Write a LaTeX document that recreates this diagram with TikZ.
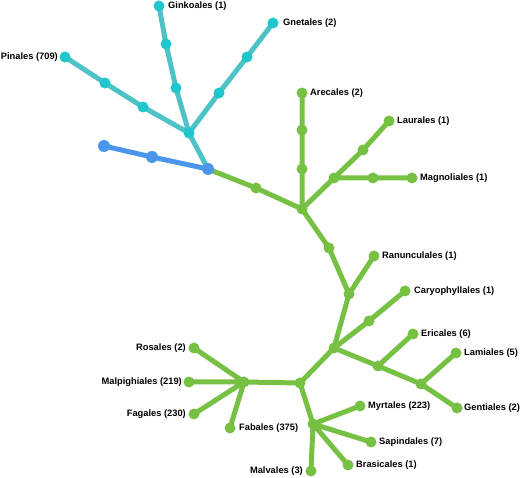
\documentclass[tikz,border=0pt]{standalone}
\usepackage{fontspec}
\setmainfont{Liberation Sans}
\definecolor{cyanline}{HTML}{4DC3C8}
\definecolor{cyandot}{HTML}{1FC6CB}
\definecolor{blueline}{HTML}{4A96EA}
\definecolor{greenline}{HTML}{76C043}
\tikzset{
  edge/.style={line width=5pt,line cap=round},
  lbl/.style={font=\bfseries\fontsize{9.3}{10}\selectfont,inner sep=0pt},
}
\begin{document}
\begin{tikzpicture}[x=1pt,y=-1pt]
\useasboundingbox (0,0) rectangle (520,478);
% points of the tree
\coordinate (gk) at (159,6);\coordinate (gk1) at (166,44);\coordinate (gk2) at (176,88);
\coordinate (gn) at (273,23);\coordinate (gn1) at (247,57);\coordinate (gn2) at (219,93);
\coordinate (pi) at (65,57);\coordinate (pi1) at (105,83);\coordinate (pi2) at (143,107);
\coordinate (cyhub) at (189,133);
\coordinate (root) at (208,169);\coordinate (bl1) at (152,157);\coordinate (bl) at (104,146);
\coordinate (g1) at (256,188);\coordinate (hubA) at (302,209);
\coordinate (ar) at (302,93);\coordinate (ar1) at (302,130);\coordinate (ar2) at (302,169);
\coordinate (mghub) at (334,178);\coordinate (la1) at (363,150);\coordinate (la) at (389,121);
\coordinate (mg1) at (373,178);\coordinate (mg) at (412,178);
\coordinate (d1) at (329,248);\coordinate (hubB) at (349,294);\coordinate (ra) at (374,256);
\coordinate (hubC) at (334,348);\coordinate (ca1) at (369,321);\coordinate (ca) at (405,291);
\coordinate (hubD) at (378,366);\coordinate (er) at (413,334);
\coordinate (hubE) at (421,384);\coordinate (lm) at (456,353);\coordinate (ge) at (457,408);
\coordinate (hubF) at (300,383);\coordinate (hubG) at (244,382);
\coordinate (ro) at (194,348);\coordinate (mp) at (189,382);\coordinate (fg) at (194,414);\coordinate (fb) at (230,428);
\coordinate (hubH) at (313,424);
\coordinate (my) at (360,406);\coordinate (sa) at (371,442);\coordinate (br) at (348,465);\coordinate (mv) at (311,471);

% branches
\draw[edge,cyanline] (pi)--(pi1)--(pi2)--(cyhub) (gk)--(gk1)--(gk2)--(cyhub) (gn)--(gn1)--(gn2)--(cyhub)--(root);
\draw[edge,blueline] (bl)--(bl1)--(root);
\draw[edge,greenline] (root)--(g1)--(hubA)--(ar2)--(ar1)--(ar) (hubA)--(mghub)--(la1)--(la) (mghub)--(mg1)--(mg)
  (hubA)--(d1)--(hubB)--(ra) (hubB)--(hubC)--(ca1)--(ca) (hubC)--(hubD)--(er) (hubD)--(hubE)--(lm) (hubE)--(ge)
  (hubC)--(hubF)--(hubG)--(ro) (hubG)--(mp) (hubG)--(fg) (hubG)--(fb)
  (hubF)--(hubH)--(my) (hubH)--(sa) (hubH)--(br) (hubH)--(mv);

% dots
\foreach \p in {gk,gk1,gk2,gn,gn1,gn2,pi,pi1,pi2,cyhub} \fill[cyandot] (\p) circle[radius=5.5pt];
\foreach \p in {bl,bl1,root} \fill[blueline] (\p) circle[radius=6pt];
\foreach \p in {g1,hubA,ar,ar1,ar2,mghub,la1,la,mg1,mg,d1,hubB,ra,hubC,ca1,ca,hubD,er,hubE,lm,ge,hubF,hubG,ro,mp,fg,fb,hubH,my,sa,br,mv}
  \fill[greenline] (\p) circle[radius=5.5pt];

% labels
\node[lbl,anchor=west] (gkl) at ([xshift=9pt]gk) {Ginkoales (1)};
\node[lbl,anchor=west] (gnl) at ([xshift=10pt]gn) {Gnetales (2)};
\node[lbl,anchor=east] (pil) at ([xshift=-7pt]pi) {Pinales (709)};
\node[lbl,anchor=west] (arl) at ([xshift=8pt]ar) {Arecales (2)};
\node[lbl,anchor=west] (lal) at ([xshift=8pt]la) {Laurales (1)};
\node[lbl,anchor=west] (mgl) at ([xshift=8pt]mg) {Magnoliales (1)};
\node[lbl,anchor=west] (ral) at ([xshift=8pt]ra) {Ranunculales (1)};
\node[lbl,anchor=west] (cal) at ([xshift=9pt]ca) {Caryophyllales (1)};
\node[lbl,anchor=west] (erl) at ([xshift=8pt]er) {Ericales (6)};
\node[lbl,anchor=west] (lml) at ([xshift=8pt]lm) {Lamiales (5)};
\node[lbl,anchor=west] (gel) at ([xshift=7pt]ge) {Gentiales (2)};
\node[lbl,anchor=west] (myl) at ([xshift=8pt]my) {Myrtales (223)};
\node[lbl,anchor=west] (sal) at ([xshift=8pt]sa) {Sapindales (7)};
\node[lbl,anchor=west] (brl) at ([xshift=8pt]br) {Brasicales (1)};
\node[lbl,anchor=east] (mvl) at ([xshift=-8pt]mv) {Malvales (3)};
\node[lbl,anchor=west] (fbl) at ([xshift=9pt]fb) {Fabales (375)};
\node[lbl,anchor=east] (rol) at ([xshift=-8pt]ro) {Rosales (2)};
\node[lbl,anchor=east] (mpl) at ([xshift=-7pt]mp) {Malpighiales (219)};
\node[lbl,anchor=east] (fgl) at ([xshift=-8pt]fg) {Fagales (230)};
\end{tikzpicture}
\end{document}
